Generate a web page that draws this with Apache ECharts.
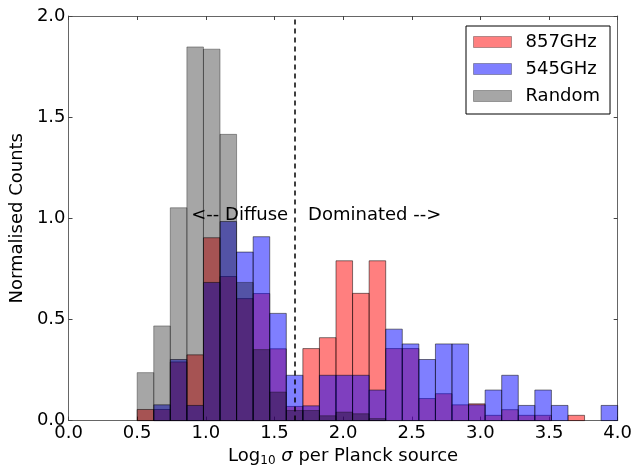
<!DOCTYPE html>
<html>
<head>
<meta charset="utf-8">
<script src="https://cdn.jsdelivr.net/npm/echarts@6/dist/echarts.min.js"></script>
<style>
  html, body { margin: 0; padding: 0; background: #fff; }
  #chart { width: 635px; height: 472px; }
</style>
</head>
<body>
<div id="chart"></div>
<script>
// histogram bins: 29 bins from 0.5 to 4.0
const binStart = 0.5;
const binWidth = 3.5 / 29;

const red857 = [0.055, 0.055, 0.29, 0.325, 0.904, 0.712, 0.603, 0.628, 0.355, 0.07,
  0.356, 0.41, 0.79, 0.629, 0.79, 0.356, 0.356, 0.109, 0.133, 0.078,
  0.083, 0.026, 0.054, 0.026, 0.026, 0, 0.026, 0, 0];
const blue545 = [0, 0.078, 0.302, 0.075, 0.683, 0.984, 0.833, 0.909, 0.53, 0.224,
  0.073, 0.224, 0.224, 0.224, 0.151, 0.452, 0.379, 0.302, 0.379, 0.379,
  0.078, 0.151, 0.224, 0.075, 0.151, 0.075, 0, 0, 0.075];
const randomVals = [0.237, 0.468, 1.052, 1.847, 1.836, 1.415, 0.683, 0.351, 0.141, 0.05,
  0.05, 0.024, 0.042, 0.034, 0.01, 0, 0, 0, 0, 0,
  0, 0, 0, 0, 0, 0, 0, 0, 0];

const splitX = 1.65;
const notes = [
  { x: 1.6, y: 1.015, text: '<-- Diffuse', pos: 'left' },
  { x: 1.745, y: 1.015, text: 'Dominated -->', pos: 'right' }
];

const FONT = 'DejaVu Sans';
const FS = 18;

function toBins(vals) {
  return vals.map((v, i) => [binStart + i * binWidth, binStart + (i + 1) * binWidth, v]);
}

function histSeries(name, vals, fill, edge) {
  return {
    name,
    type: 'custom',
    xAxisIndex: 0,
    yAxisIndex: 0,
    itemStyle: { color: fill },
    renderItem: (params, api) => {
      const v = api.value(2);
      if (!v) return;
      const p0 = api.coord([api.value(0), v]);
      const p1 = api.coord([api.value(1), 0]);
      return {
        type: 'rect',
        shape: { x: p0[0], y: p0[1], width: p1[0] - p0[0], height: p1[1] - p0[1] },
        style: { fill: fill, stroke: edge, lineWidth: 1 }
      };
    },
    encode: { x: [0, 1], y: 2 },
    data: toBins(vals),
    z: 2
  };
}

const axisLine = { show: true, onZero: false, lineStyle: { color: '#666', width: 1 } };
const tick = { show: true, inside: true, length: 4, lineStyle: { color: '#444' } };

let myChart = echarts.init(document.getElementById('chart'));
let option = {
  animation: false,
  grid: { left: 66, right: 15, top: 16, bottom: 46 },
  legend: {
    orient: 'vertical',
    left: 466,
    top: 26,
    padding: [7, 10, 9, 7],
    itemGap: 9,
    itemWidth: 38,
    itemHeight: 11,
    borderColor: '#000',
    borderWidth: 1,
    icon: 'rect',
    textStyle: { fontFamily: FONT, fontSize: FS, color: '#000', padding: [0, 0, 0, 9] },
    data: [
      { name: '857GHz', itemStyle: { color: 'rgba(255,0,0,0.5)', borderColor: 'rgba(0,0,0,0.3)', borderWidth: 1 } },
      { name: '545GHz', itemStyle: { color: 'rgba(0,0,255,0.5)', borderColor: 'rgba(0,0,0,0.3)', borderWidth: 1 } },
      { name: 'Random', itemStyle: { color: 'rgba(0,0,0,0.35)', borderColor: 'rgba(0,0,0,0.3)', borderWidth: 1 } }
    ]
  },
  xAxis: [{
    type: 'value', min: 0, max: 4, interval: 0.5,
    axisLine, axisTick: tick, splitLine: { show: false },
    axisLabel: { fontFamily: FONT, fontSize: FS, color: '#000', margin: 4,
      formatter: v => v.toFixed(1) },
    name: 'Log{sub|10} {it|σ} per Planck source',
    nameLocation: 'middle', nameGap: 25,
    nameTextStyle: { fontFamily: FONT, fontSize: FS, color: '#000',
      rich: { sub: { fontFamily: FONT, fontSize: 12, verticalAlign: 'bottom', padding: [9, 0, 0, 0] },
              it: { fontFamily: FONT, fontSize: FS, fontStyle: 'italic' } } }
  }, {
    type: 'value', min: 0, max: 4, interval: 0.5, position: 'top',
    axisLine, axisTick: tick, axisLabel: { show: false }, splitLine: { show: false }
  }],
  yAxis: [{
    type: 'value', min: 0, max: 2, interval: 0.5,
    axisLine, axisTick: tick, splitLine: { show: false },
    axisLabel: { fontFamily: FONT, fontSize: FS, color: '#000', margin: 3,
      formatter: v => v.toFixed(1) },
    name: 'Normalised Counts', nameLocation: 'middle', nameGap: 38,
    nameTextStyle: { fontFamily: FONT, fontSize: FS, color: '#000' }
  }, {
    type: 'value', min: 0, max: 2, interval: 0.5, position: 'right',
    axisLine, axisTick: tick, axisLabel: { show: false }, splitLine: { show: false }
  }],
  series: [
    histSeries('857GHz', red857, 'rgba(255,0,0,0.5)', 'rgba(0,0,0,0.5)'),
    histSeries('545GHz', blue545, 'rgba(0,0,255,0.5)', 'rgba(0,0,0,0.5)'),
    histSeries('Random', randomVals, 'rgba(0,0,0,0.35)', 'rgba(0,0,0,0.35)'),
    {
      type: 'scatter',
      symbolSize: 0,
      silent: true,
      data: notes.map(n => ({
        value: [n.x, n.y],
        label: { show: true, position: n.pos, distance: 0, formatter: n.text,
          fontFamily: FONT, fontSize: FS, color: '#000', opacity: 1 }
      })),
      markLine: {
        silent: true,
        symbol: 'none',
        label: { show: false },
        lineStyle: { color: '#000', type: [5, 4], width: 1.5, opacity: 1 },
        data: [{ xAxis: splitX }]
      },
      z: 5
    }
  ]
};
myChart.setOption(option);
</script>
</body>
</html>
